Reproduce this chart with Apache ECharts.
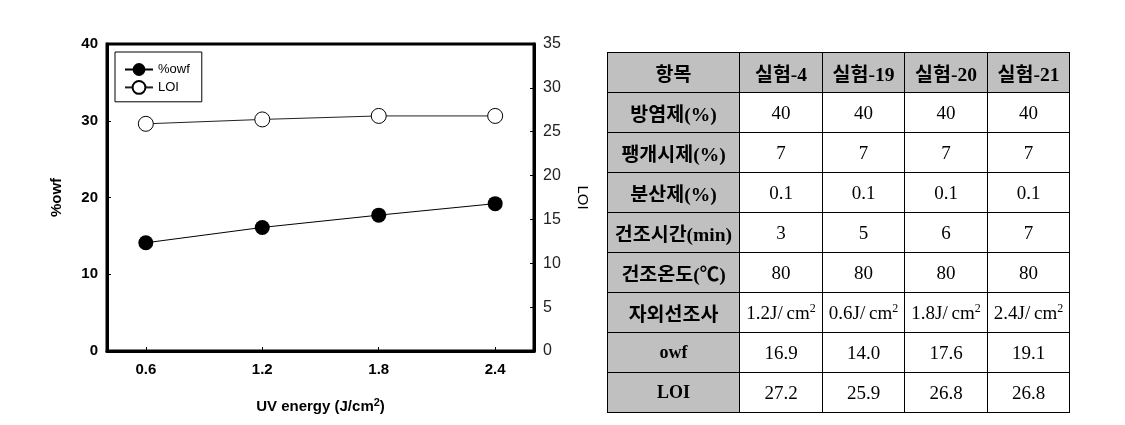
<!DOCTYPE html>
<html>
<head>
<meta charset="utf-8">
<script src="https://cdn.jsdelivr.net/npm/echarts@6/dist/echarts.min.js"></script>
<style>
  html, body { margin: 0; padding: 0; background: #fff; }
  #wrap { position: relative; width: 1125px; height: 425px; overflow: hidden; }
  #chart { position: absolute; left: 0; top: 0; width: 1125px; height: 425px; }
  #tbl {
    position: absolute; left: 607px; top: 52px; width: 462px; height: 359px;
    border-collapse: collapse; table-layout: fixed;
    font-family: "Liberation Serif", "Noto Sans CJK KR", serif; color: #000;
  }
  #tbl td { border: 1px solid #000; text-align: center; vertical-align: middle; padding: 0; white-space: nowrap; font-size: 19px; height: 39px; }
  #tbl td.hd { background: #c0c0c0; font-weight: bold; font-size: 19.5px; }
  #tbl td.hd.plain { font-weight: bold; font-size: 18px; }
  #tbl sup { font-size: 12px; line-height: 0; vertical-align: 7px; }
</style>
</head>
<body>
<div id="wrap">
  <div id="chart"></div>
  <table id="tbl">
    <colgroup><col style="width:132px"><col style="width:83px"><col style="width:82px"><col style="width:83px"><col style="width:82px"></colgroup>
    <tbody id="tbody"></tbody>
  </table>
</div>
<script>
// ---- chart data ----
const uvEnergy = [0.6, 1.2, 1.8, 2.4];
const owfValues = [14.1, 16.1, 17.7, 19.2];
const loiValues = [25.9, 26.4, 26.8, 26.8];
const xTickValues = [0.6, 1.2, 1.8, 2.4];

// ---- table data ----
const tableHeader = ['항목', '실험-4', '실험-19', '실험-20', '실험-21'];
const rowLabels = ['방염제(%)', '팽개시제(%)', '분산제(%)', '건조시간(min)', '건조온도(℃)', '자외선조사', 'owf', 'LOI'];
const flameRetardant = ['40', '40', '40', '40'];
const swellingAgent = ['7', '7', '7', '7'];
const dispersant = ['0.1', '0.1', '0.1', '0.1'];
const dryTime = ['3', '5', '6', '7'];
const dryTemp = ['80', '80', '80', '80'];
const uvDose = ['1.2', '0.6', '1.8', '2.4'];
const owfTable = ['16.9', '14.0', '17.6', '19.1'];
const loiTable = ['27.2', '25.9', '26.8', '26.8'];
const tableRows = [flameRetardant, swellingAgent, dispersant, dryTime, dryTemp, uvDose, owfTable, loiTable];
const uvRowIndex = 5;
const plainLabelRows = [6, 7];

// build table
const tbody = document.getElementById('tbody');
const hr = document.createElement('tr');
tableHeader.forEach(h => { const td = document.createElement('td'); td.className = 'hd'; td.textContent = h; hr.appendChild(td); });
tbody.appendChild(hr);
tableRows.forEach((vals, i) => {
  const tr = document.createElement('tr');
  const th = document.createElement('td');
  th.className = 'hd' + (plainLabelRows.includes(i) ? ' plain' : '');
  th.textContent = rowLabels[i];
  tr.appendChild(th);
  vals.forEach(v => {
    const td = document.createElement('td');
    if (i === uvRowIndex) {
      td.appendChild(document.createTextNode(v + 'J/\u2009cm'));
      const s = document.createElement('sup'); s.textContent = '2'; td.appendChild(s);
    } else {
      td.textContent = v;
    }
    tr.appendChild(td);
  });
  tbody.appendChild(tr);
});

// build chart
const chart = echarts.init(document.getElementById('chart'), null, { renderer: 'canvas' });
const font = 'Liberation Sans';
const owfData = uvEnergy.map((x, i) => [x, owfValues[i]]);
const loiData = uvEnergy.map((x, i) => [x, loiValues[i]]);

chart.setOption({
  animation: false,
  backgroundColor: '#fff',
  textStyle: { fontFamily: font, color: '#000' },
  grid: { left: 107, top: 44, right: 591, bottom: 74, show: true, borderColor: '#000', borderWidth: 3, backgroundColor: 'transparent' },
  legend: {
    left: 115, top: 52, orient: 'vertical',
    borderColor: '#000', borderWidth: 1, padding: [11, 12, 7, 9],
    itemWidth: 28, itemHeight: 16, itemGap: 4,
    textStyle: { fontSize: 13, color: '#000', fontFamily: font },
    data: ['%owf', 'LOI']
  },
  xAxis: {
    type: 'value', min: 0.4, max: 2.6,
    name: '{a|UV energy (J/cm}{s|2}{a|)}',
    nameLocation: 'middle', nameGap: 46,
    nameTextStyle: {
      rich: {
        a: { fontSize: 15, fontWeight: 'bold', fontFamily: font, color: '#000', lineHeight: 20 },
        s: { fontSize: 11, fontWeight: 'bold', fontFamily: font, color: '#000', verticalAlign: 'top', lineHeight: 20, padding: [0, 0, 6, 0] }
      }
    },
    axisLine: { show: true, lineStyle: { color: '#000', width: 3 } },
    axisTick: { show: true, inside: true, length: 4, customValues: xTickValues, lineStyle: { color: '#000', width: 1 } },
    axisLabel: { customValues: xTickValues, fontSize: 15, fontWeight: 'bold', color: '#000', margin: 11, formatter: v => v.toFixed(1) },
    splitLine: { show: false }
  },
  yAxis: [
    {
      type: 'value', min: 0, max: 40, interval: 10, position: 'left',
      name: '%owf', nameLocation: 'middle', nameGap: 43, nameRotate: 90,
      nameTextStyle: { fontSize: 15, fontWeight: 'bold', color: '#000' },
      axisLine: { show: true, lineStyle: { color: '#000', width: 3 } },
      axisTick: { show: true, inside: true, length: 4, lineStyle: { color: '#000', width: 1 } },
      axisLabel: { fontSize: 15, fontWeight: 'bold', color: '#000', margin: 9 },
      splitLine: { show: false }
    },
    {
      type: 'value', min: 0, max: 35, interval: 5, position: 'right',
      name: 'LOI', nameLocation: 'middle', nameGap: 41, nameRotate: -90,
      nameTextStyle: { fontSize: 15, color: '#000' },
      axisLine: { show: true, lineStyle: { color: '#000', width: 3 } },
      axisTick: { show: true, inside: true, length: 4, lineStyle: { color: '#000', width: 1 } },
      axisLabel: { fontSize: 16, color: '#222', margin: 9 },
      splitLine: { show: false }
    }
  ],
  series: [
    {
      name: '%owf', type: 'line', yAxisIndex: 0, data: owfData,
      symbol: 'circle', symbolSize: 15,
      itemStyle: { color: '#000' },
      lineStyle: { color: '#000', width: 1 }
    },
    {
      name: 'LOI', type: 'line', yAxisIndex: 1, data: loiData,
      symbol: 'circle', symbolSize: 15,
      itemStyle: { color: '#fff', borderColor: '#000', borderWidth: 1 },
      lineStyle: { color: '#222', width: 1 }
    }
  ]
});
</script>
</body>
</html>
